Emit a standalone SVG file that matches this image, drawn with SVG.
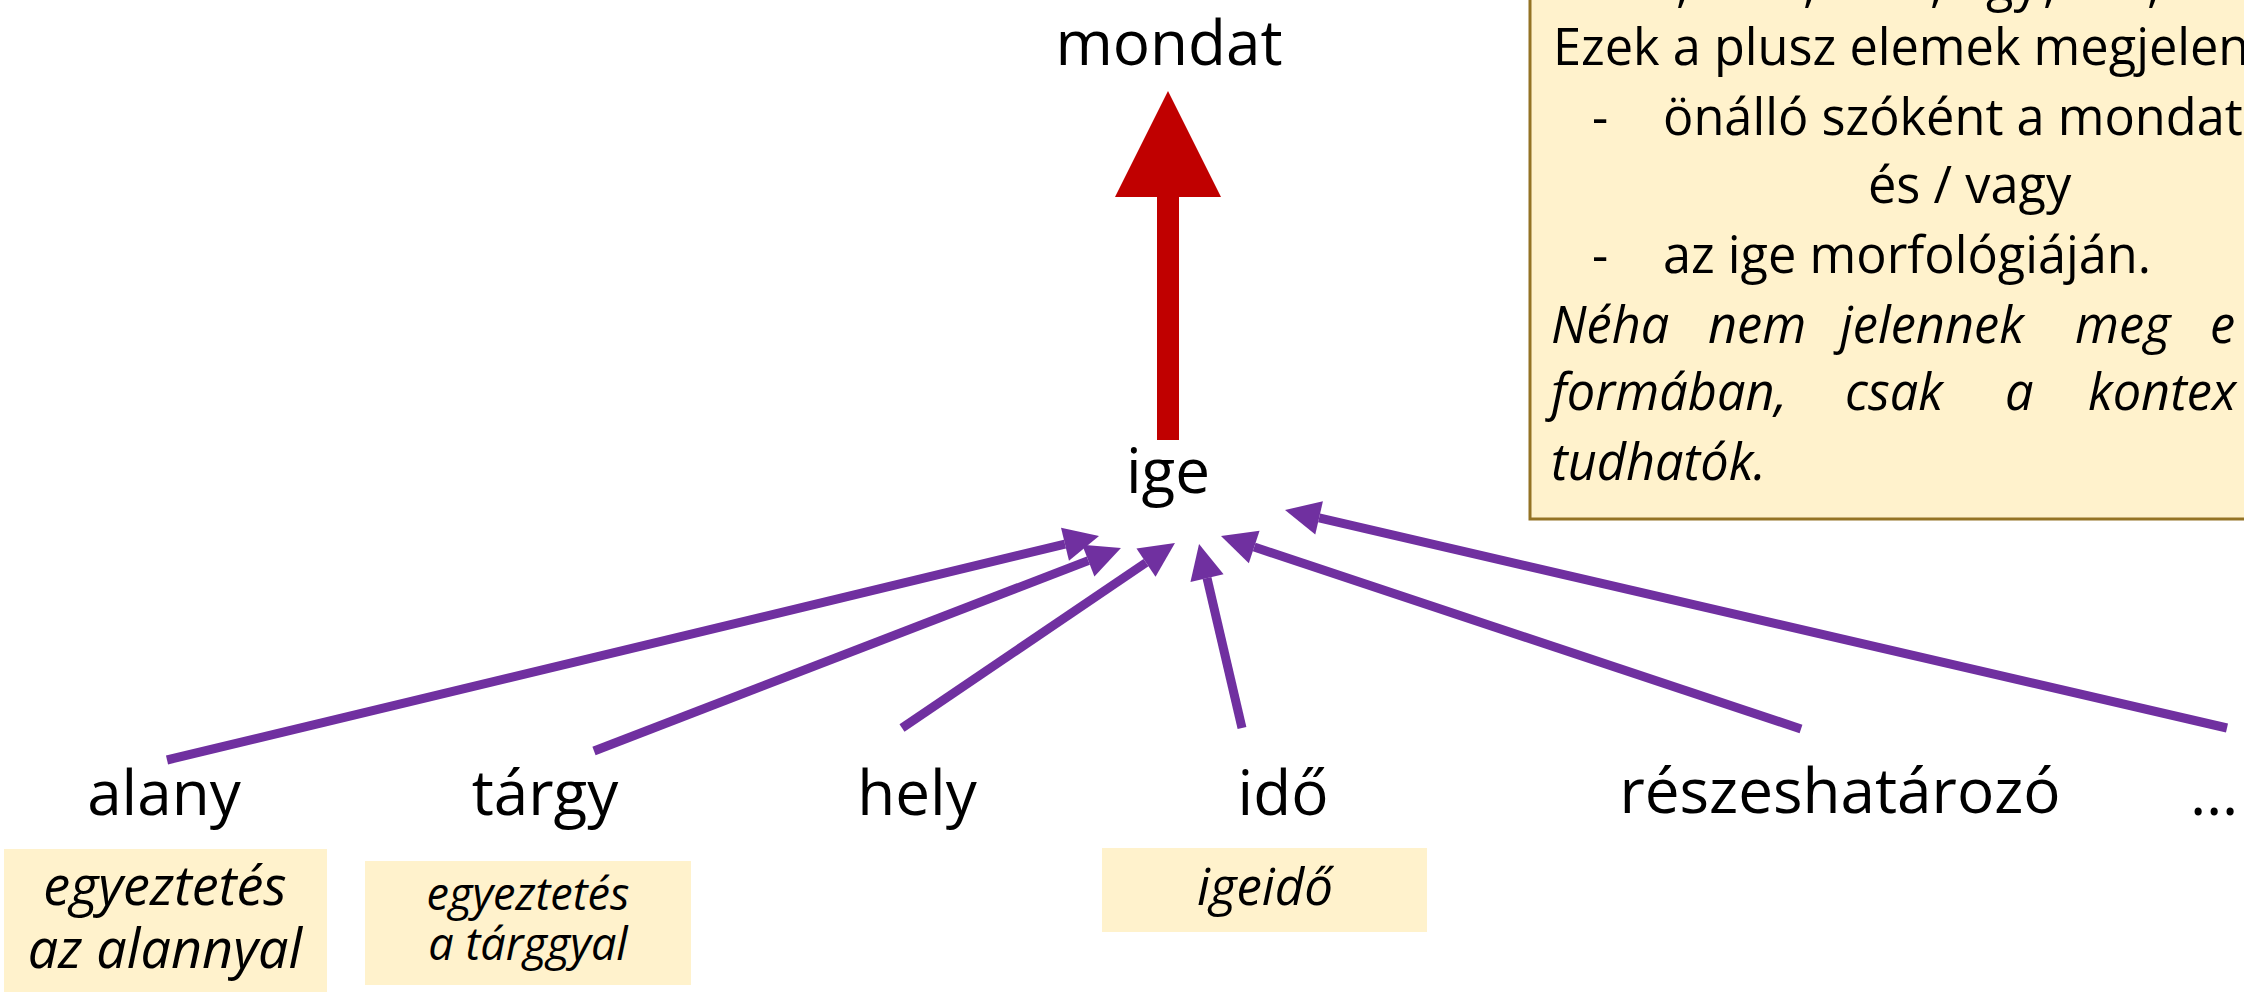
<svg xmlns="http://www.w3.org/2000/svg" width="2244" height="992" viewBox="0 0 2244 992">
<style>
.lbl{font-family:"Open Sans","Noto Sans",sans-serif;font-size:62px;fill:#000;text-anchor:middle}
.note{font-family:"Open Sans","Noto Sans",sans-serif;font-size:50.5px;fill:#000}
.it{font-style:italic}
.sub{font-family:"Open Sans","Noto Sans",sans-serif;font-style:italic;fill:#000;text-anchor:middle}
.subbox{fill:#FFF2CC}
.conn{stroke:#7030A0;stroke-width:9;fill:none;marker-end:url(#ah)}
</style>
<defs>
<marker id="ah" markerUnits="userSpaceOnUse" markerWidth="40" markerHeight="40" viewBox="0 -20 40 40" refX="0" refY="0" orient="auto" overflow="visible">
<path d="M0,-17 L35,0 L0,17 z" fill="#7030A0"/>
</marker>
</defs>
<rect width="2244" height="992" fill="#fff"/>

<g id="note">
<rect x="1530" y="-10" width="760" height="529" fill="#FFF2CC" stroke="#947324" stroke-width="3"/>
<text class="note" y="1"><tspan x="1676">,</tspan><tspan x="1803">,</tspan><tspan x="1930">,</tspan><tspan x="1986">gy</tspan><tspan x="2043">,</tspan><tspan x="2147">,</tspan></text>
<text class="note" x="1553" y="65">Ezek a plusz elemek megjelen</text>
<text class="note" x="1592" y="135">-</text>
<text class="note" x="1663" y="135">önálló szóként a mondat</text>
<text class="note" x="1868" y="203">és / vagy</text>
<text class="note" x="1592" y="273">-</text>
<text class="note" x="1663" y="273">az ige morfológiáján.</text>
<text class="note it" y="343"><tspan x="1551">Néha</tspan><tspan x="1708">nem</tspan><tspan x="1840">jelennek</tspan><tspan x="2075">meg</tspan><tspan x="2210">e</tspan></text>
<text class="note it" y="410"><tspan x="1551">formában,</tspan><tspan x="1845">csak</tspan><tspan x="2005">a</tspan><tspan x="2088">kontex</tspan></text>
<text class="note it" x="1551" y="480">tudhatók.</text>
</g>

<g id="mondat"><text class="lbl" x="1169" y="65">mondat</text></g>
<g id="ige"><text class="lbl" x="1168" y="493">ige</text></g>
<g id="alany"><text class="lbl" x="164" y="815">alany</text>
<rect class="subbox" x="4" y="849" width="323" height="150"/>
<text class="sub" x="165" y="905" font-size="54">egyeztetés</text>
<text class="sub" x="165" y="968" font-size="54">az alannyal</text></g>
<g id="targy"><text class="lbl" x="545" y="815">tárgy</text>
<rect class="subbox" x="365" y="861" width="326" height="124"/>
<text class="sub" x="528" y="910" font-size="45">egyeztetés</text>
<text class="sub" x="528" y="960" font-size="45">a tárggyal</text></g>
<g id="hely"><text class="lbl" x="917" y="815">hely</text></g>
<g id="ido"><text class="lbl" x="1283" y="815">idő</text>
<rect class="subbox" x="1102" y="848" width="325" height="84"/>
<text class="sub" x="1265" y="905" font-size="51">igeidő</text></g>
<g id="reszes"><text class="lbl" x="1840" y="813">részeshatározó</text></g>
<g id="etc"><text class="lbl" x="2190" y="815" style="text-anchor:start">…</text></g>

<g id="connectors">
<rect x="1157" y="196" width="22" height="244" fill="#C00000"/>
<polygon points="1168,91 1115,197 1221,197" fill="#C00000"/>
<line class="conn" x1="167" y1="760" x2="1065" y2="544.2"/>
<line class="conn" x1="594" y1="751" x2="1088.3" y2="560.6"/>
<line class="conn" x1="902" y1="728" x2="1146" y2="562.6"/>
<line class="conn" x1="1242" y1="728" x2="1207" y2="578.1"/>
<line class="conn" x1="1801" y1="729" x2="1254.2" y2="547"/>
<line class="conn" x1="2227" y1="728" x2="1319.1" y2="517.9"/>
</g>
</svg>
